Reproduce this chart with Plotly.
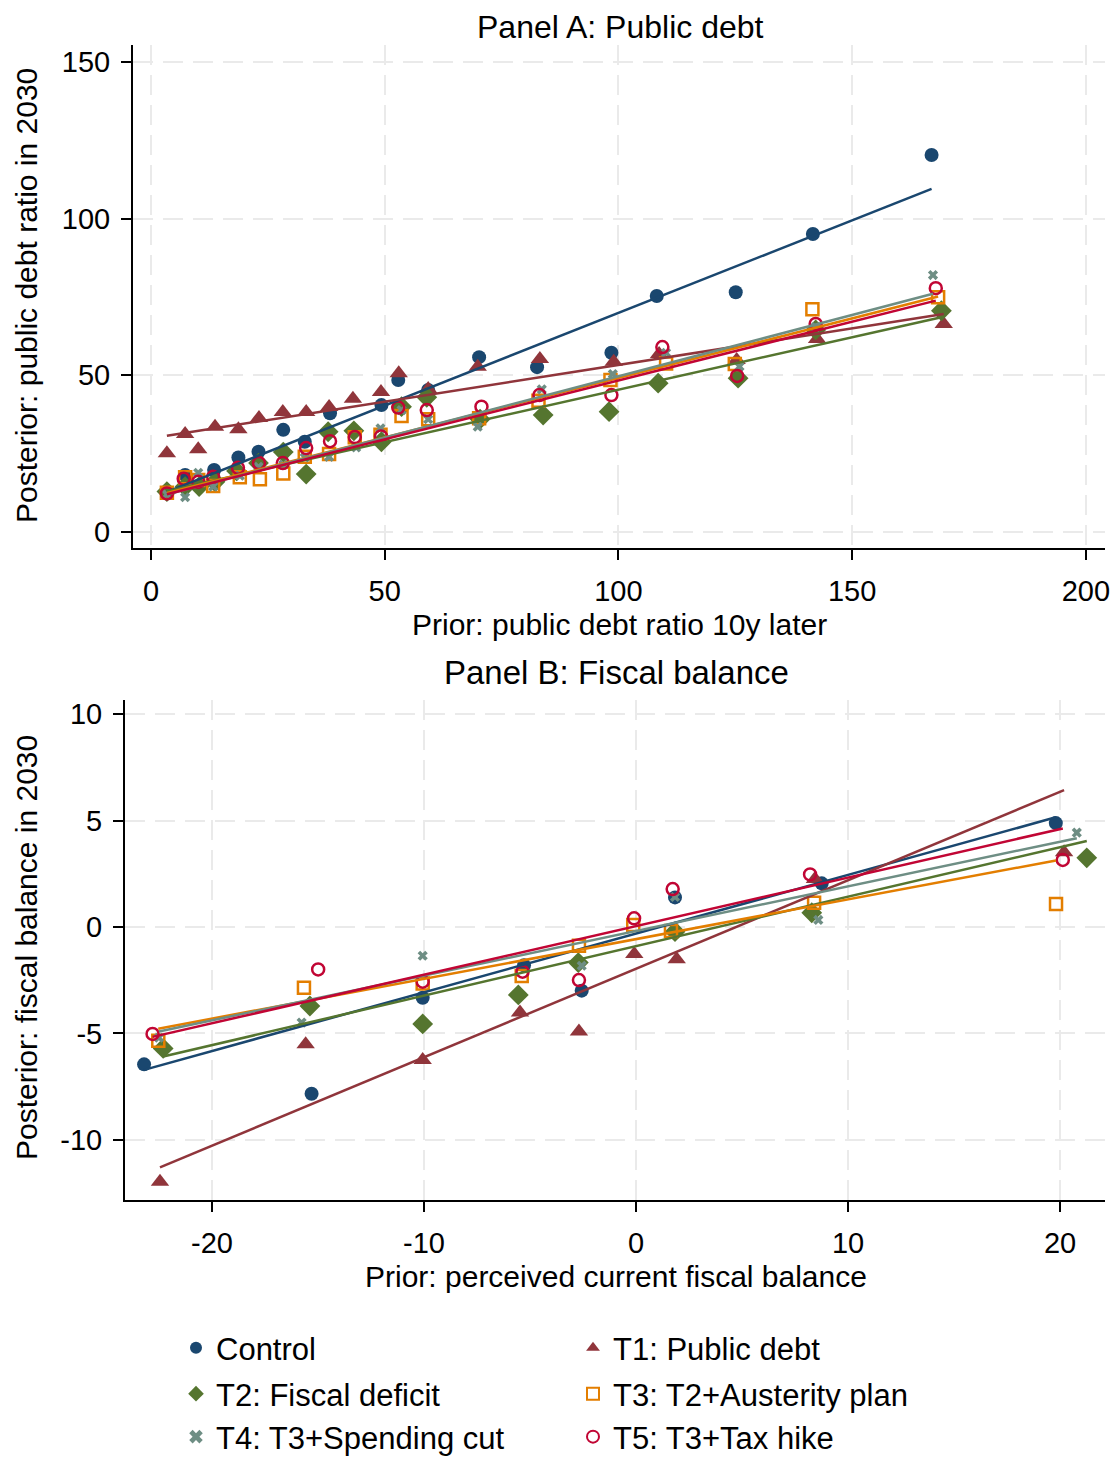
import plotly.graph_objects as go
import numpy as np

# ---------------- Data ----------------
series_names = ["Control", "T1: Public debt", "T2: Fiscal deficit",
                "T3: T2+Austerity plan", "T4: T3+Spending cut", "T5: T3+Tax hike"]

# Panel A: prior (x) vs posterior (y) public debt ratio (binned means)
a_control_x = [3.4, 7.3, 13.5, 18.7, 23.0, 28.3, 32.9, 38.3, 49.3, 52.9, 59.3, 70.2, 82.6, 98.5, 108.2, 125.1, 141.6, 167.0]
a_control_y = [12.9, 18.2, 19.8, 23.8, 25.6, 32.6, 28.8, 37.9, 40.5, 48.5, 45.3, 55.8, 52.6, 57.2, 75.3, 76.5, 95.1, 120.3]
a_t1_x = [3.4, 7.3, 10.1, 13.7, 18.7, 23.1, 28.2, 33.2, 38.1, 43.2, 49.2, 53.0, 59.3, 69.9, 83.2, 99.0, 108.7, 125.3, 142.5, 169.6]
a_t1_y = [25.1, 31.3, 26.4, 33.6, 32.8, 36.4, 38.3, 38.3, 39.9, 42.5, 44.7, 50.7, 45.6, 52.7, 55.2, 54.3, 56.8, 54.9, 61.6, 66.4]
a_t2_x = [3.4, 7.3, 10.3, 13.7, 18.3, 23.0, 28.3, 33.2, 37.9, 43.4, 49.3, 53.6, 59.0, 70.4, 83.9, 98.0, 108.5, 125.6, 142.2, 169.1]
a_t2_y = [12.9, 14.5, 14.5, 16.0, 19.5, 22.0, 25.5, 18.5, 32.0, 32.3, 28.8, 40.0, 43.0, 36.0, 37.3, 38.4, 47.5, 49.1, 64.5, 70.6]
a_t3_x = [3.4, 7.3, 10.1, 13.3, 19.0, 23.3, 28.3, 32.9, 38.1, 43.6, 49.1, 53.6, 59.3, 70.2, 82.9, 98.3, 110.2, 124.9, 141.5, 168.4]
a_t3_y = [12.5, 17.5, 16.6, 14.7, 17.5, 16.8, 18.7, 24.0, 24.9, 30.2, 31.0, 37.0, 36.0, 36.3, 41.9, 48.5, 53.8, 53.6, 71.1, 74.9]
a_t4_x = [3.4, 7.3, 10.1, 13.3, 19.0, 23.0, 28.3, 32.9, 38.1, 43.9, 49.1, 53.6, 59.3, 69.9, 83.6, 98.8, 110.2, 125.9, 142.2, 167.3]
a_t4_y = [12.0, 11.1, 18.9, 14.5, 18.0, 20.8, 21.5, 23.8, 24.0, 27.0, 33.1, 38.9, 36.0, 33.6, 45.5, 50.4, 57.2, 52.8, 65.4, 82.0]
a_t5_x = [3.4, 7.0, 10.1, 13.3, 18.6, 23.1, 28.2, 33.2, 38.3, 43.6, 49.2, 52.9, 59.0, 70.7, 83.1, 98.5, 109.4, 125.4, 142.2, 167.9]
a_t5_y = [12.3, 17.0, 16.0, 17.6, 20.5, 22.0, 22.0, 26.8, 29.0, 30.3, 30.5, 39.7, 38.9, 40.0, 43.7, 43.7, 59.0, 49.8, 66.4, 77.8]
# Panel A fitted lines (intercept, slope)
a_fit_intercept = [10.8, 29.9, 11.9, 11.2, 10.6, 10.8]
a_fit_slope = [0.591, 0.234, 0.335, 0.3796, 0.391, 0.3755]
a_xticks = [0, 50, 100, 150, 200]
a_xticklabels = ["0", "50", "100", "150", "200"]
a_yticks = [0, 50, 100, 150]
a_yticklabels = ["0", "50", "100", "150"]

# Panel B: prior (x) vs posterior (y) fiscal balance (binned means)
b_control_x = [-23.2, -15.3, -10.06, -5.28, -2.56, 1.84, 8.76, 19.8]
b_control_y = [-6.45, -7.83, -3.32, -1.80, -2.99, 1.39, 2.05, 4.88]
b_t1_x = [-22.45, -15.58, -10.06, -5.47, -2.69, -0.08, 1.92, 8.44, 20.19]
b_t1_y = [-11.96, -5.51, -6.24, -4.02, -4.91, -1.27, -1.52, 2.25, 3.51]
b_t2_x = [-22.3, -15.38, -10.06, -5.55, -2.72, 1.84, 8.29, 21.26]
b_t2_y = [-5.70, -3.71, -4.55, -3.19, -1.67, -0.22, 0.67, 3.25]
b_t3_x = [-22.53, -15.66, -10.06, -5.39, -2.69, -0.13, 1.65, 8.40, 19.81]
b_t3_y = [-5.34, -2.85, -2.65, -2.30, -0.88, 0.09, -0.19, 1.14, 1.08]
b_t4_x = [-22.5, -15.77, -10.06, -2.56, 1.84, 8.60, 20.79]
b_t4_y = [-5.20, -4.49, -1.35, -1.82, 1.41, 0.33, 4.43]
b_t5_x = [-22.8, -14.99, -10.06, -5.35, -2.69, -0.09, 1.73, 8.21, 20.13]
b_t5_y = [-5.02, -1.99, -2.57, -2.10, -2.49, 0.41, 1.78, 2.47, 3.15]
b_fit_intercept = [-0.31, -1.96, -0.90, -0.57, -0.19, 0.04]
b_fit_slope = [0.2758, 0.4156, 0.2324, 0.1866, 0.2097, 0.228]
b_xticks = [-20, -10, 0, 10, 20]
b_xticklabels = ["-20", "-10", "0", "10", "20"]
b_yticks = [-10, -5, 0, 5, 10]
b_yticklabels = ["-10", "-5", "0", "5", "10"]

# ---------------- Styles ----------------
colors = ["#1a476f", "#90353b", "#55752f", "#e37e00", "#6e8e84", "#c10534"]
symbols = ["circle", "triangle-up", "diamond", "square-open", "x", "circle-open"]
sizes = [14, 16, 16, 12, 9, 12]
line_w = [0, 0, 0, 2.5, 0, 2.5]
legend_ids = ["legend", "legend", "legend2", "legend2", "legend3", "legend3"]

# page body has an 8px default margin: figure is sized to fit inside the window
OFF = 8
FW, FH = 1120 - 2 * OFF, 1466 - 2 * OFF
FONT = "Liberation Sans, Arial, Helvetica, sans-serif"

fig = go.Figure()

panels = [
    ("x", "y",
     [a_control_x, a_t1_x, a_t2_x, a_t3_x, a_t4_x, a_t5_x],
     [a_control_y, a_t1_y, a_t2_y, a_t3_y, a_t4_y, a_t5_y],
     a_fit_intercept, a_fit_slope, True),
    ("x2", "y2",
     [b_control_x, b_t1_x, b_t2_x, b_t3_x, b_t4_x, b_t5_x],
     [b_control_y, b_t1_y, b_t2_y, b_t3_y, b_t4_y, b_t5_y],
     b_fit_intercept, b_fit_slope, False),
]

for xa, ya, xs, ys, icpt, slp, legend in panels:
    for i in range(6):
        fig.add_trace(go.Scatter(
            x=xs[i], y=ys[i], mode="markers", name=series_names[i],
            xaxis=xa, yaxis=ya, showlegend=legend, legend=legend_ids[i],
            marker=dict(symbol=symbols[i], size=sizes[i], color=colors[i],
                        line=dict(width=line_w[i], color=colors[i])),
        ))
    for i in range(6):
        xl = np.array([min(xs[i]), max(xs[i])])
        fig.add_trace(go.Scatter(
            x=xl, y=icpt[i] + slp[i] * xl, mode="lines", xaxis=xa, yaxis=ya,
            showlegend=False, hoverinfo="skip",
            line=dict(color=colors[i], width=2.5),
        ))

def px_x(p):
    return (p - OFF) / FW

def px_y(p):
    return 1 - (p - OFF) / FH

axis_common = dict(
    showline=True, linecolor="black", linewidth=2, mirror=False,
    ticks="outside", ticklen=10, tickwidth=2, tickcolor="black",
    showgrid=True, gridcolor="#eaeaea", gridwidth=2, griddash="20px,10px",
    zeroline=False, tickfont=dict(family=FONT, size=29, color="black"),
    automargin=False,
)

def legend_row(ypx):
    return dict(orientation="h", x=px_x(176), xanchor="left", y=px_y(ypx), yanchor="middle",
                entrywidth=352, entrywidthmode="pixels", itemsizing="constant",
                font=dict(family=FONT, size=31, color="black"), traceorder="normal",
                bgcolor="rgba(0,0,0,0)")

fig.update_layout(
    width=FW, height=FH,
    margin=dict(l=0, r=0, t=0, b=0, autoexpand=False),
    paper_bgcolor="white", plot_bgcolor="white",
    font=dict(family=FONT, color="black"),
    xaxis=dict(domain=[px_x(133), px_x(1105)], range=[-3.85, 204.1],
               tickvals=a_xticks, ticktext=a_xticklabels, anchor="y", ticklabelstandoff=6, **axis_common),
    yaxis=dict(domain=[px_y(548), px_y(45)], range=[-5.1, 155.4],
               tickvals=a_yticks, ticktext=a_yticklabels, anchor="x", ticklabelstandoff=5, **axis_common),
    xaxis2=dict(domain=[px_x(125), px_x(1105)], range=[-24.1, 22.12],
                tickvals=b_xticks, ticktext=b_xticklabels, anchor="y2", ticklabelstandoff=6, **axis_common),
    yaxis2=dict(domain=[px_y(1200), px_y(700)], range=[-12.82, 10.66],
                tickvals=b_yticks, ticktext=b_yticklabels, anchor="x2", ticklabelstandoff=5, **axis_common),
    legend=legend_row(1348),
    legend2=legend_row(1394),
    legend3=legend_row(1437),
    showlegend=True,
)

annots = [
    dict(text="Panel A: Public debt", x=px_x(620), y=1.0, size=32, angle=0, ya="top"),
    dict(text="Prior: public debt ratio 10y later", x=px_x(619), y=px_y(624), size=30, angle=0, ya="middle"),
    dict(text="Posterior: public debt ratio in 2030", x=px_x(26), y=px_y(296), size=30, angle=-90, ya="middle"),
    dict(text="Panel B: Fiscal balance", x=px_x(616), y=px_y(672), size=33, angle=0, ya="middle"),
    dict(text="Prior: perceived current fiscal balance", x=px_x(616), y=px_y(1276), size=30, angle=0, ya="middle"),
    dict(text="Posterior: fiscal balance in 2030", x=px_x(26), y=px_y(948), size=30, angle=-90, ya="middle"),
]
for a in annots:
    fig.add_annotation(text=a["text"], x=a["x"], y=a["y"], xref="paper", yref="paper",
                       xanchor="center", yanchor=a["ya"], showarrow=False, textangle=a["angle"],
                       borderpad=0,
                       font=dict(family=FONT, size=a["size"], color="black"))

fig.write_html("out.html")
